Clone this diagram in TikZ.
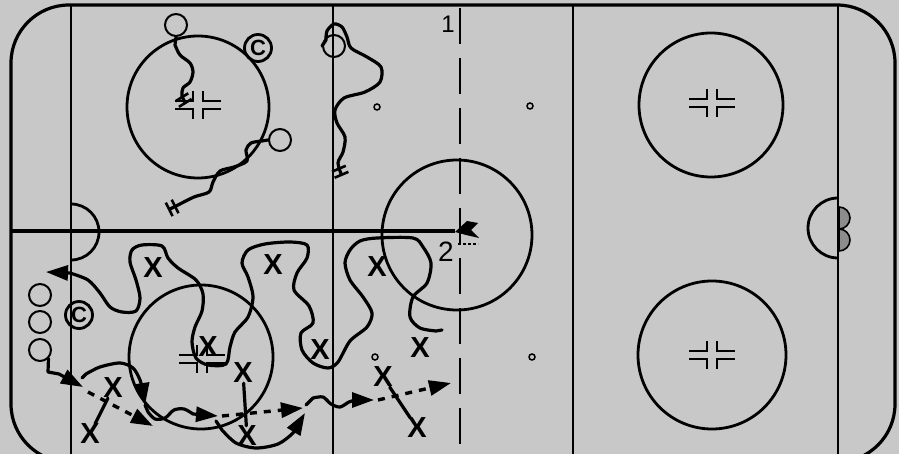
\documentclass[tikz,border=0pt]{standalone}
\usepackage{fontspec}
\setmainfont{Liberation Sans}
\usepackage{tikz}
\usetikzlibrary{arrows.meta}
\definecolor{icegray}{HTML}{C8C8C8}
\definecolor{netgray}{HTML}{8C8C8C}

\newcommand{\dotmarks}[2]{%
  \draw[hashline] (#1-23,#2-4) -- (#1-5,#2-4) -- (#1-5,#2-14);
  \draw[hashline] (#1-23,#2+4) -- (#1-5,#2+4) -- (#1-5,#2+14);
  \draw[hashline] (#1+23,#2-4) -- (#1+5,#2-4) -- (#1+5,#2-14);
  \draw[hashline] (#1+23,#2+4) -- (#1+5,#2+4) -- (#1+5,#2+14);}

\begin{document}
\begin{tikzpicture}[x=1pt, y=-1pt,
    rink/.style={line width=2.8pt},
    hashline/.style={line width=1.2pt},
    player/.style={draw, circle, line width=2pt, minimum size=22pt, inner sep=0pt},
    coach/.style={player, line width=2.8pt, minimum size=27pt, font=\bfseries\fontsize{22}{22}\selectfont},
    xman/.style={inner sep=0pt, font=\bfseries\fontsize{29}{29}\selectfont},
    skate/.style={line width=3.2pt, line join=round, line cap=round},
    passline/.style={line width=3.4pt, dash pattern=on 7pt off 7pt},
    arrowed/.style={-{Triangle[length=22pt,width=15pt]}},
    halt/.style={-{Bar[width=15pt,line width=2.6pt,sep=4pt]Bar[width=15pt,line width=2.6pt]}},
  ]
    \clip (0,0) rectangle (899,454);
    \fill[icegray] (0,0) rectangle (899,454);

    \draw[rink, line width=3.2pt, rounded corners=58pt] (11,5) rectangle (895,462);
    \draw[rink] (71,5) -- (71,454);
    \draw[rink] (838,5) -- (838,454);
    \draw[rink] (333,5) -- (333,454);
    \draw[rink] (573,5) -- (573,454);
    \draw[rink, dash pattern=on 36pt off 14pt] (460,8) -- (460,454);
    \draw[rink, line width=3.2pt] (11,231) -- (455,231);

    \draw[rink] (71,204) arc[start angle=90, end angle=-90, radius=28pt];
    \draw[rink] (838,198) arc[start angle=90, end angle=270, radius=30pt];
    \filldraw[fill=netgray, line width=1.6pt] (839,207) arc[start angle=90, end angle=-90, radius=11pt] -- cycle;
    \filldraw[fill=netgray, line width=1.6pt] (839,229) arc[start angle=90, end angle=-90, radius=11pt] -- cycle;

    \draw[rink] (198,107) circle[radius=71pt];
    \draw[rink] (201,357) circle[radius=72pt];
    \draw[rink] (711,105) circle[radius=72pt];
    \draw[rink] (712,355) circle[radius=74pt];
    \draw[rink] (457,235) circle[radius=75pt];
    \dotmarks{198}{105}
    \dotmarks{202}{359}
    \dotmarks{712}{103}
    \dotmarks{712}{355}
    \foreach \dx/\dy in {377/107, 530/106, 375/357, 532/357}
      \draw[line width=1.5pt] (\dx,\dy) circle[radius=3pt];

    \fill (455,232) -- (467,221) -- (478,223) -- (471,230) -- (479,238) -- (466,235) -- cycle;
    \draw[line width=1.2pt, dash pattern=on 3pt off 2pt] (458,244) -- (478,244);

    \node[font=\fontsize{24}{24}\selectfont] (one) at (448,24) {1};
    \node[font=\fontsize{28}{28}\selectfont] (two) at (446,252) {2};

    \node[player] (p1) at (176,25) {};
    \node[coach]  (c1) at (258,48) {C};
    \node[player] (p2) at (280,140) {};
    \node[player] (p3) at (334,46) {};
    \node[player] (q1) at (40,295) {};
    \node[player] (q2) at (40,322) {};
    \node[player] (q3) at (40,350) {};
    \node[coach]  (c2) at (79,315) {C};

    \node[xman] (xa) at (153,268) {X};
    \node[xman] (xb) at (273,265) {X};
    \node[xman] (xc) at (377,267) {X};
    \node[xman] (xd) at (208,347) {X};
    \node[xman] (xe) at (320,350) {X};
    \node[xman] (xf) at (420,348) {X};
    \node[xman] (xg) at (113,388) {X};
    \node[xman] (xh) at (90,434) {X};
    \node[xman] (xi) at (243,373) {X};
    \node[xman] (xj) at (247,436) {X};
    \node[xman] (xk) at (383,377) {X};
    \node[xman] (xl) at (417,428) {X};

    \coordinate (w0) at (442,330);
    \coordinate (w1) at (46,272);
    \coordinate (r1) at (83,387);
    \coordinate (r2) at (82,378);
    \coordinate (r3) at (145,405);
    \coordinate (r4) at (218,416);
    \coordinate (r5) at (303,408);
    \coordinate (r6) at (374,400);
    \coordinate (r7) at (451,383);
    \coordinate (d1) at (88,392);
    \coordinate (d2) at (153,426);
    \coordinate (d3) at (222,416);
    \coordinate (d4) at (216,421);
    \coordinate (d5) at (306,405);
    \coordinate (d6) at (378,400);
    \coordinate (r8) at (305,413);

    \draw[skate, halt] (p1.south) -- plot[smooth] coordinates {(175,45) (180,55) (190,63) (193,72) (190,82) (183,88) (182,96) (186,104)};
    \draw[skate, halt] (p2.west) -- plot[smooth] coordinates {(262,141) (251,143) (246,150) (247,161) (234,167) (220,171) (213,182) (209,192) (194,197) (178,205) (168,210)};
    \draw[skate, halt] (p3.west) -- plot[smooth] coordinates {(326,40) (327,31) (334,24) (342,27) (347,37) (351,48) (367,57) (381,67) (380,82) (365,92) (344,98) (335,110) (337,123) (345,137) (343,152) (338,163) (342,176)};

    \draw[skate, arrowed] (w0) -- plot[smooth] coordinates {(436,331) (420,328) (410,317) (413,297) (427,283) (431,263) (423,247) (413,238) (377,238) (360,241) (350,250) (345,263) (350,280) (363,297) (372,313) (367,327) (350,341) (338,362) (328,368) (313,363) (302,350) (301,333) (313,323) (309,306) (294,290) (297,273) (307,258) (307,245) (290,242) (265,244) (248,250) (242,263) (248,277) (253,297) (248,317) (235,332) (230,347) (226,364) (208,365) (196,358) (192,342) (195,327) (202,311) (203,294) (196,280) (178,268) (168,258) (162,246) (142,245) (132,250) (130,262) (136,280) (140,298) (136,311) (122,312) (110,307) (100,293) (88,280) (70,273)} -- (w1);

    \draw[skate, arrowed] (q3.south east) -- (48,372) -- (59,374) -- (r1);
    \draw[passline, arrowed] (d1) -- (d2);
    \draw[skate, arrowed] (r2) -- plot[smooth] coordinates {(86,374) (100,367) (120,363) (133,368) (140,380) (143,392)} -- (r3);
    \draw[skate, arrowed] (r3) -- plot[smooth] coordinates {(148,412) (155,419) (165,418) (174,410) (184,409) (193,414)} -- (r4);
    \draw[passline, arrowed] (d3) -- (r5);
    \draw[skate, arrowed] (d4) -- plot[smooth] coordinates {(222,430) (236,443) (256,448) (278,444) (293,433) (299,423)} -- (r8);
    \draw[skate, arrowed] (d5) -- plot[smooth] coordinates {(313,398) (323,397) (331,404) (340,407) (349,402) (356,400)} -- (r6);
    \draw[passline, arrowed] (d6) -- (r7);

    \draw[skate] (xg) -- (xh);
    \draw[skate] (xi) -- (xj);
    \draw[skate] (xk) -- (xl);
  \end{tikzpicture}
\end{document}
